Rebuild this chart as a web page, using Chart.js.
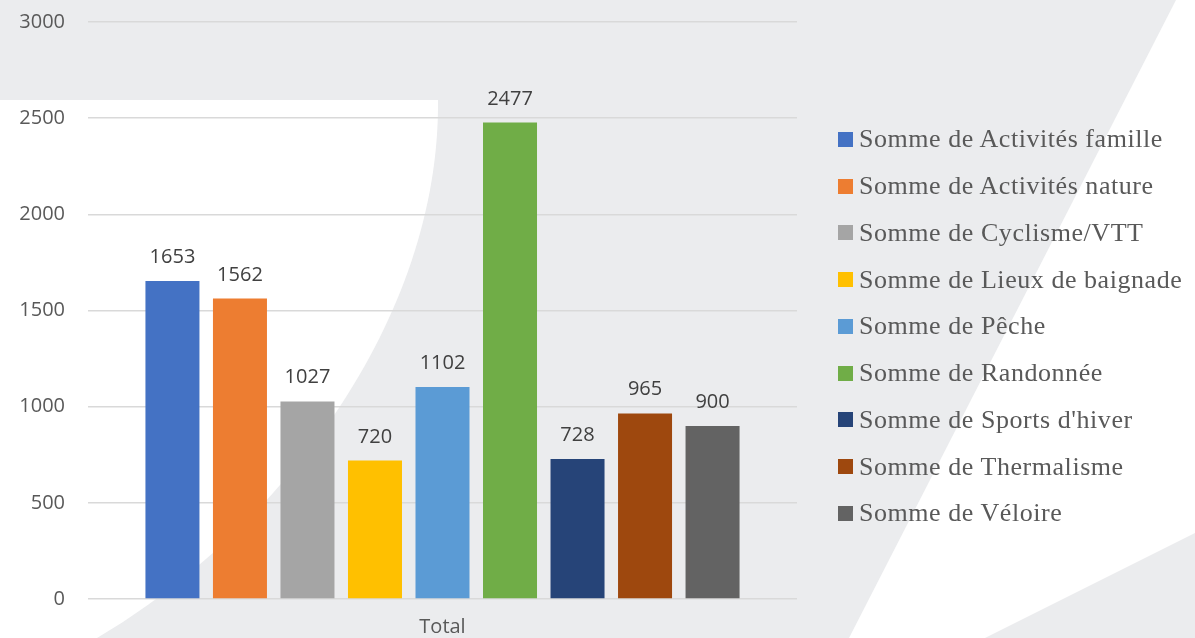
<!DOCTYPE html>
<html>
<head>
<meta charset="utf-8">
<script src="https://cdn.jsdelivr.net/npm/chart.js@4/dist/chart.umd.min.js"></script>
<style>
    html, body { margin: 0; padding: 0; background: #fff; }
    #wrap { position: relative; width: 1195px; height: 638px; overflow: hidden; }
    #legend {
        position: absolute; left: 838px; top: 116px; margin: 0; padding: 0; list-style: none;
        font-family: "Liberation Serif", serif; font-size: 26px; letter-spacing: 0.55px; color: #595959;
    }
    #legend li { display: flex; align-items: center; height: 46.75px; white-space: nowrap; }
    #legend span.box { display: inline-block; width: 15px; height: 15px; margin-right: 6px; }
</style>
</head>
<body>
<div id="wrap">
    <canvas id="chart"></canvas>
    <ul id="legend"></ul>
</div>
<script>
const categories = ["Total"];
const seriesNames = [
    "Somme de Activités famille",
    "Somme de Activités nature",
    "Somme de Cyclisme/VTT",
    "Somme de Lieux de baignade",
    "Somme de Pêche",
    "Somme de Randonnée",
    "Somme de Sports d'hiver",
    "Somme de Thermalisme",
    "Somme de Véloire"
];
const seriesValues = [1653, 1562, 1027, 720, 1102, 2477, 728, 965, 900];
const seriesColors = ["#4472C4", "#ED7D31", "#A5A5A5", "#FFC000", "#5B9BD5", "#70AD47", "#264478", "#9E480E", "#636363"];
const yTicks = [0, 500, 1000, 1500, 2000, 2500, 3000];

document.addEventListener("DOMContentLoaded", () => {
    // decorative background shapes of the slide
    const background = {
        id: "background",
        beforeDraw: (chart) => {
            const ctx = chart.ctx;
            ctx.save();
            ctx.fillStyle = "#EBECEE";
            ctx.fillRect(0, 0, chart.width, chart.height);
            ctx.fillStyle = "#FFFFFF";
            ctx.beginPath();
            ctx.moveTo(0, 100);
            ctx.lineTo(438, 100);
            ctx.bezierCurveTo(440, 320, 280, 530, 97, 638);
            ctx.lineTo(0, 638);
            ctx.closePath();
            ctx.fill();
            ctx.beginPath();
            ctx.moveTo(1176, 0);
            ctx.lineTo(1195, 0);
            ctx.lineTo(1195, 533);
            ctx.lineTo(985, 638);
            ctx.lineTo(849, 638);
            ctx.closePath();
            ctx.fill();
            ctx.restore();
        }
    };

    const valueLabels = {
        id: "valueLabels",
        afterDatasetsDraw: (chart) => {
            const ctx = chart.ctx;
            ctx.save();
            ctx.font = "20px 'Open Sans'";
            ctx.fillStyle = "#404040";
            ctx.textAlign = "center";
            ctx.textBaseline = "alphabetic";
            chart.data.datasets.forEach((ds, i) => {
                chart.getDatasetMeta(i).data.forEach((bar, j) => {
                    ctx.fillText(String(ds.data[j]), bar.x, bar.y - 18);
                });
            });
            ctx.restore();
        }
    };

    const datasets = seriesNames.map((name, i) => ({
        label: name,
        data: [seriesValues[i]],
        backgroundColor: seriesColors[i],
        borderWidth: 0,
        categoryPercentage: 0.857,
        barPercentage: 0.8
    }));

    const chart = new Chart(document.getElementById("chart"), {
        type: "bar",
        data: { labels: categories, datasets: datasets },
        options: {
            responsive: true,
            maintainAspectRatio: false,
            animation: false,
            layout: { padding: { top: 22, right: 398, bottom: 0, left: 0 } },
            plugins: {
                legend: { display: false },
                tooltip: { enabled: false }
            },
            scales: {
                x: {
                    grid: { display: false, drawTicks: false },
                    border: { display: false },
                    ticks: { color: "#595959", font: { family: "Open Sans", size: 20 }, padding: 16 },
                    afterFit: (scale) => { scale.height = 39; }
                },
                y: {
                    min: 0,
                    max: 3000,
                    afterBuildTicks: (scale) => { scale.ticks = yTicks.map(v => ({ value: v })); },
                    grid: { color: "#D9D9D9", lineWidth: 1.5, drawTicks: false },
                    border: { display: false },
                    ticks: {
                        color: "#595959",
                        font: { family: "Open Sans", size: 20 },
                        padding: 23,
                        callback: (v) => String(v)
                    },
                    afterFit: (scale) => {
                        scale.width = 88;
                        scale.paddingTop = 0;
                        scale.paddingBottom = 0;
                    }
                }
            }
        },
        plugins: [background, valueLabels]
    });

    const legendEl = document.getElementById("legend");
    chart.data.datasets.forEach((ds) => {
        const li = document.createElement("li");
        const box = document.createElement("span");
        box.className = "box";
        box.style.background = ds.backgroundColor;
        li.appendChild(box);
        li.appendChild(document.createTextNode(ds.label));
        legendEl.appendChild(li);
    });
});
</script>
</body>
</html>
